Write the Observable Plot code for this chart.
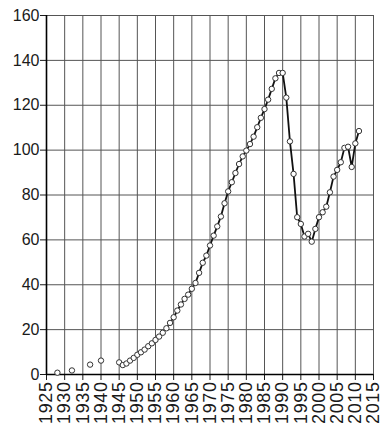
<!DOCTYPE html>
<html>
<head>
<meta charset="utf-8">
<script src="https://cdn.jsdelivr.net/npm/d3@7"></script>
<script src="https://cdn.jsdelivr.net/npm/@observablehq/plot@0.6"></script>
<style>
  html, body { margin: 0; padding: 0; background: #fff; }
  #chart svg { display: block; }
  #chart svg g[aria-label="x-axis tick label"] text { letter-spacing: 0.6px; }
</style>
</head>
<body>
<div id="chart"></div>
<script>
const years = [1928, 1932, 1937, 1940,
  1945, 1946, 1947, 1948, 1949, 1950, 1951, 1952, 1953, 1954, 1955, 1956, 1957, 1958, 1959,
  1960, 1961, 1962, 1963, 1964, 1965, 1966, 1967, 1968, 1969, 1970, 1971, 1972, 1973, 1974,
  1975, 1976, 1977, 1978, 1979, 1980, 1981, 1982, 1983, 1984, 1985, 1986, 1987, 1988, 1989,
  1990, 1991, 1992, 1993, 1994, 1995, 1996, 1997, 1998, 1999, 2000, 2001, 2002, 2003, 2004,
  2005, 2006, 2007, 2008, 2009, 2010, 2011];
const values = [0.8, 1.8, 4.4, 6.2,
  5.4, 4.2, 4.9, 6.2, 7.4, 8.8, 9.9, 11.1, 12.6, 13.9, 15.4, 16.9, 18.6, 20.6, 23.0,
  25.5, 28.5, 31.2, 33.7, 35.6, 38.2, 40.8, 45.3, 49.8, 53.0, 57.5, 61.9, 66.0, 70.4, 76.3,
  81.6, 85.7, 89.8, 93.8, 97.2, 99.8, 102.7, 106.0, 110.2, 114.4, 118.3, 122.5, 127.3, 132.0, 134.4,
  134.4, 123.4, 103.9, 89.4, 70.1, 67.1, 61.5, 62.7, 59.2, 64.9, 70.1, 72.3, 74.8, 81.2, 88.2,
  91.2, 94.6, 101.0, 101.5, 92.5, 103.0, 108.5];
const lineStartYear = 1945;
const xTicks = [1925, 1930, 1935, 1940, 1945, 1950, 1955, 1960, 1965, 1970, 1975, 1980, 1985, 1990, 1995, 2000, 2005, 2010, 2015];
const yTicks = [0, 20, 40, 60, 80, 100, 120, 140, 160];

const data = years.map((year, i) => ({year, value: values[i]}));

const chart = Plot.plot({
  width: 386,
  height: 424,
  marginLeft: 46,
  marginRight: 13,
  marginTop: 15,
  marginBottom: 50,
  style: {fontFamily: "'Liberation Sans', Arial, sans-serif", fontSize: "16px", color: "#1a1a1a", background: "#fff"},
  x: {domain: [1925, 2015], label: null},
  y: {domain: [0, 160], label: null},
  marks: [
    Plot.gridX(xTicks, {stroke: "#555", strokeOpacity: 1, strokeWidth: 1}),
    Plot.gridY(yTicks, {stroke: "#555", strokeOpacity: 1, strokeWidth: 1}),
    Plot.axisY(yTicks, {tickSize: 6, tickPadding: 1, fontSize: 16, tickFormat: d => String(d), label: null}),
    Plot.axisX(xTicks, {tickSize: 6, tickPadding: 1, tickRotate: -90, fontSize: 18, tickFormat: d => String(d), label: null}),
    Plot.ruleX([1925], {stroke: "#000", strokeWidth: 1.6}),
    Plot.ruleY([0], {stroke: "#000", strokeWidth: 1.4}),
    Plot.line(data.filter(d => d.year >= lineStartYear), {x: "year", y: "value", stroke: "#111", strokeWidth: 1.8}),
    Plot.dot(data, {x: "year", y: "value", r: 2.7, fill: "#fff", stroke: "#333", strokeWidth: 1})
  ]
});
document.getElementById("chart").appendChild(chart);
</script>
</body>
</html>
